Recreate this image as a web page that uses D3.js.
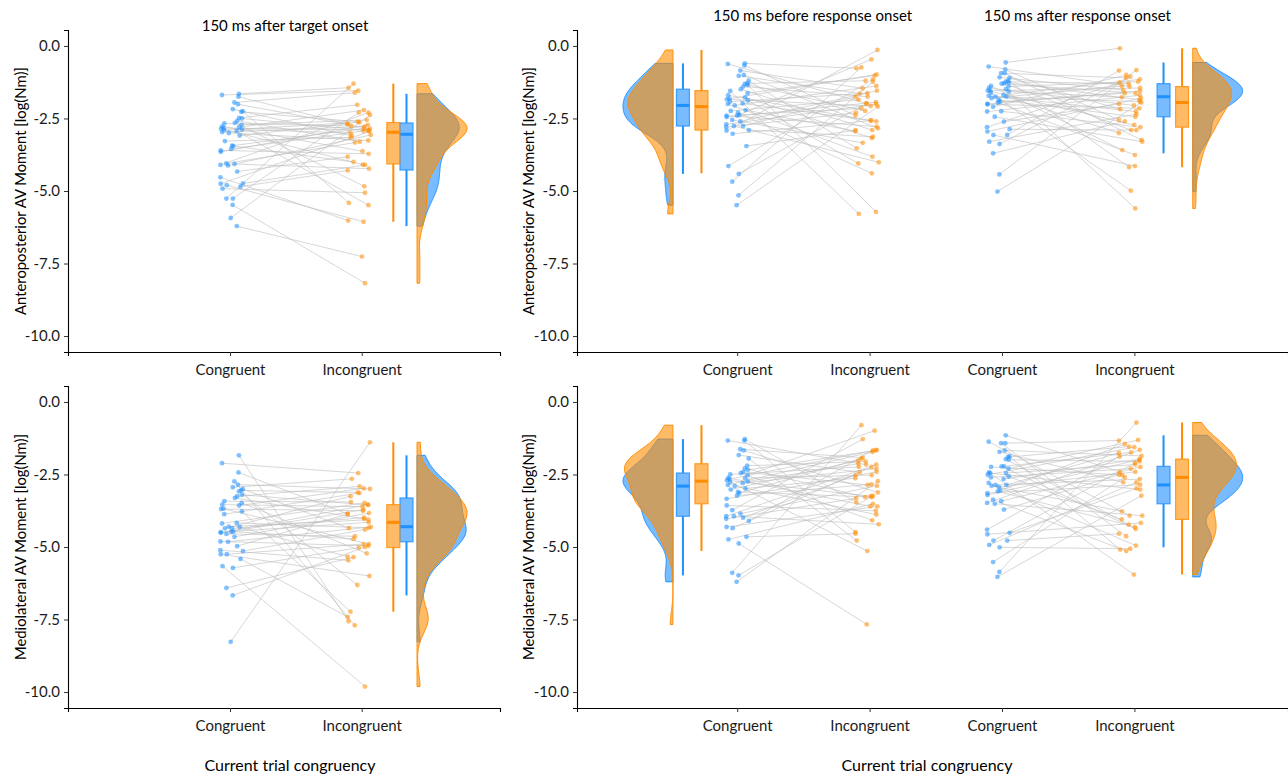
<!DOCTYPE html>
<html>
<head>
<meta charset="utf-8">
<script src="https://cdn.jsdelivr.net/npm/d3@7"></script>
<style>
  body { margin: 0; background: #fff; }
  text { font-family: Lato, "Open Sans", sans-serif; }
</style>
</head>
<body>
<svg id="chart" width="1288" height="774"></svg>
<script>
// ---- data (log(Nm)), paired by index: congruent[i] <-> incongruent[i] ----
const conditions = ['150 ms after target onset', '150 ms before response onset', '150 ms after response onset'];
const categories = ['Congruent', 'Incongruent'];
const yTicks = [0, -2.5, -5, -7.5, -10];
const yTitles = ['Anteroposterior AV Moment [log(Nm)]', 'Mediolateral AV Moment [log(Nm)]'];
const xTitle = 'Current trial congruency';

// anteroposterior, after target onset
const apTargetCong = [-1.65,-1.69,-1.75,-1.95,-2.01,-2.18,-2.25,-2.27,-2.48,-2.50,-2.58,-2.65,-2.67,-2.72,-2.77,-2.80,-2.83,-2.85,-2.88,-2.90,-2.93,-2.97,-3.00,-3.09,-3.28,-3.44,-3.45,-3.55,-3.60,-3.65,-4.05,-4.07,-4.10,-4.12,-4.33,-4.53,-4.74,-4.75,-4.80,-4.85,-4.92,-5.26,-5.26,-5.48,-5.93,-6.21];
const apTargetIncong = [-1.44,-1.54,-2.70,-1.61,-2.85,-3.10,-5.41,-2.61,-2.03,-2.92,-3.30,-4.84,-2.76,-2.55,-3.63,-2.21,-2.90,-4.09,-3.00,-2.63,-5.49,-2.78,-3.26,-2.67,-3.15,-2.84,-4.00,-2.93,-3.72,-2.72,-3.33,-4.23,-2.30,-3.07,-3.82,-6.02,-4.10,-2.95,-6.06,-4.29,-5.06,-2.29,-1.30,-8.18,-2.38,-7.26];

// anteroposterior, before response onset
const apBeforeCong = [-0.60,-0.62,-0.67,-0.85,-1.00,-1.03,-1.20,-1.29,-1.31,-1.35,-1.40,-1.49,-1.55,-1.63,-1.70,-1.77,-1.82,-1.84,-1.88,-1.92,-1.98,-2.00,-2.05,-2.21,-2.24,-2.30,-2.38,-2.40,-2.40,-2.45,-2.55,-2.60,-2.70,-2.76,-2.76,-2.80,-2.90,-2.92,-3.03,-3.45,-4.14,-4.41,-4.68,-5.15,-5.49];
const apBeforeIncong = [-0.77,-1.98,-2.40,-1.46,-2.84,-1.64,-3.53,-1.20,-2.24,-5.72,-1.75,-2.90,-5.79,-1.02,-2.57,-3.17,-0.98,-2.07,-4.05,-1.63,-2.60,-3.82,-1.38,-2.94,-1.85,-4.39,-2.15,-0.46,-2.78,-1.94,-3.34,-1.54,-2.01,-4.01,-1.75,-2.30,-3.13,-0.14,-2.57,-2.90,-1.15,-1.98,-0.74,-1.23,-2.09];

// anteroposterior, after response onset
const apAfterCong = [-0.57,-0.71,-0.81,-0.94,-0.94,-1.08,-1.10,-1.20,-1.23,-1.26,-1.29,-1.30,-1.38,-1.40,-1.45,-1.49,-1.54,-1.54,-1.57,-1.62,-1.69,-1.72,-1.75,-1.75,-1.80,-1.86,-1.92,-1.95,-2.00,-2.01,-2.10,-2.25,-2.26,-2.44,-2.61,-2.80,-2.87,-2.95,-3.07,-3.07,-3.30,-3.38,-3.70,-4.43,-5.02];
const apAfterIncong = [-0.08,-1.40,-2.55,-1.10,-3.24,-1.52,-2.18,-4.18,-1.30,-1.86,-2.90,-1.63,-3.59,-1.23,-2.05,-5.60,-1.45,-2.72,-1.77,-4.99,-1.15,-2.26,-1.92,-3.00,-1.38,-2.44,-1.63,-3.76,-1.55,-2.15,-1.00,-2.80,-1.70,-3.30,-2.00,-1.26,-2.90,-1.80,-4.14,-0.85,-2.35,-1.06,-2.60,-0.83,-1.95];

// mediolateral, after target onset
const mlTargetCong = [-1.84,-2.11,-2.43,-2.74,-2.85,-2.94,-3.00,-3.05,-3.08,-3.20,-3.25,-3.31,-3.42,-3.48,-3.54,-3.57,-3.68,-3.69,-3.77,-3.87,-4.17,-4.19,-4.30,-4.31,-4.36,-4.36,-4.47,-4.47,-4.49,-4.51,-4.55,-4.65,-4.81,-4.82,-4.97,-5.11,-5.14,-5.25,-5.25,-5.41,-5.66,-5.72,-6.41,-6.67,-8.27];
const mlTargetIncong = [-7.56,-2.45,-3.86,-7.70,-3.00,-2.65,-4.35,-3.12,-6.31,-3.55,-2.91,-4.03,-3.45,-5.22,-3.61,-2.98,-4.90,-3.75,-7.23,-3.14,-4.34,-3.48,-4.06,-5.33,-3.25,-3.99,-4.72,-3.71,-4.15,-3.54,-4.63,-3.83,-4.96,-4.31,-3.86,-5.46,-4.40,-6.00,-4.90,-7.41,-9.81,-5.02,-5.35,-5.00,-1.39];

// mediolateral, before response onset
const mlBeforeCong = [-1.28,-1.33,-1.33,-1.63,-1.67,-1.83,-1.95,-2.20,-2.29,-2.34,-2.41,-2.45,-2.50,-2.52,-2.62,-2.63,-2.66,-2.70,-2.74,-2.75,-2.80,-2.86,-2.90,-2.98,-3.02,-3.10,-3.14,-3.23,-3.34,-3.57,-3.73,-3.85,-3.94,-3.94,-3.99,-4.03,-4.10,-4.31,-4.35,-4.65,-4.74,-4.88,-5.89,-5.98,-6.20];
const mlBeforeIncong = [-3.46,-2.16,-4.49,-1.92,-3.12,-2.43,-4.78,-2.05,-3.28,-1.67,-2.86,-4.08,-2.24,-0.99,-3.60,-2.52,-1.65,-3.25,-2.13,-5.14,-2.30,-1.72,-3.88,-2.63,-2.02,-3.28,-1.95,-2.84,-2.41,-3.75,-1.28,-2.89,-2.16,-4.22,-2.52,-3.32,-1.67,-3.60,-2.24,-4.54,-3.51,-7.67,-0.80,-3.23,-2.73];

// mediolateral, after response onset
const mlAfterCong = [-1.15,-1.37,-1.42,-1.42,-1.67,-1.72,-1.88,-1.90,-1.97,-1.99,-2.22,-2.22,-2.24,-2.30,-2.43,-2.45,-2.45,-2.51,-2.57,-2.60,-2.66,-2.79,-2.86,-2.86,-2.89,-2.93,-3.05,-3.08,-3.14,-3.21,-3.37,-3.42,-3.48,-3.51,-3.71,-4.40,-4.51,-4.56,-4.78,-4.78,-4.93,-5.01,-5.52,-5.86,-6.03];
const mlAfterIncong = [-2.41,-3.92,-1.33,-4.63,-1.86,-2.77,-5.09,-1.54,-4.23,-2.05,-1.74,-4.38,-2.52,-1.31,-5.95,-2.16,-3.02,-1.56,-4.05,-2.30,-1.97,-4.95,-2.66,-1.76,-3.77,-2.41,-1.45,-4.31,-2.85,-1.99,-5.14,-2.24,-1.65,-3.92,-2.51,-1.88,-2.98,-4.17,-2.10,-4.54,-2.77,-5.06,-2.60,-0.71,-3.23];

// ---- layout ----
const BLUE = '#1e90ff', ORANGE = '#ff8c00';
const svg = d3.select('#chart');

const rows = [
  { yRange: [30, 352] },
  { yRange: [386, 708] }
];
const panelsX = [
  { range: [68, 500], domain: [-0.23, 3.05], ticks: [1, 2], center: 290, yTitleX: 20 },
  { range: [577, 1288], domain: [-0.21, 5.16], ticks: [1, 2, 3, 4], center: 927, yTitleX: 528 }
];

// group layout in x-units: point centres, box centres, violin base, violin direction
const layouts = {
  target: { c: 1.01, i: 1.98, boxC: 2.34, boxI: 2.24, vio: 2.42, dir: 1, titleX: null },
  before: { c: 1.0, i: 1.98, boxC: 0.59, boxI: 0.73, vio: 0.515, dir: -1, titleX: 1.57 },
  after: { c: 2.97, i: 3.97, boxC: 4.22, boxI: 4.36, vio: 4.44, dir: 1, titleX: 3.57 }
};

const plots = [
  { row: 0, px: 0, groups: [{ lay: 'target', cond: 0, cong: apTargetCong, inc: apTargetIncong }] },
  { row: 0, px: 1, groups: [{ lay: 'before', cond: 1, cong: apBeforeCong, inc: apBeforeIncong },
                            { lay: 'after', cond: 2, cong: apAfterCong, inc: apAfterIncong }] },
  { row: 1, px: 0, groups: [{ lay: 'target', cond: 0, cong: mlTargetCong, inc: mlTargetIncong }] },
  { row: 1, px: 1, groups: [{ lay: 'before', cond: 1, cong: mlBeforeCong, inc: mlBeforeIncong },
                            { lay: 'after', cond: 2, cong: mlAfterCong, inc: mlAfterIncong }] }
];

// deterministic horizontal jitter (position only, hash of the index)
const jit = i => {
  const h = Math.sin(i * 127.1 + 311.7) * 43758.5453;
  return (h - Math.floor(h) - 0.5) * 0.18;
};

function bwNrd0(x) {
  const s = d3.deviation(x);
  const srt = x.slice().sort(d3.ascending);
  const iqr = d3.quantile(srt, 0.75) - d3.quantile(srt, 0.25);
  return 0.9 * Math.min(s, iqr / 1.34) * Math.pow(x.length, -0.2);
}
function kde(x) {
  const bw = bwNrd0(x);
  const [mn, mx] = d3.extent(x);
  return d3.range(200).map(k => {
    const t = mn + (mx - mn) * k / 199;
    const d = d3.mean(x, v => Math.exp(-0.5 * ((t - v) / bw) ** 2)) / (bw * Math.sqrt(2 * Math.PI));
    return [t, d];
  });
}
function boxStats(x) {
  const s = x.slice().sort(d3.ascending);
  const q1 = d3.quantile(s, 0.25), med = d3.quantile(s, 0.5), q3 = d3.quantile(s, 0.75);
  const iqr = q3 - q1;
  const lo = d3.min(s.filter(v => v >= q1 - 1.5 * iqr));
  const hi = d3.max(s.filter(v => v <= q3 + 1.5 * iqr));
  return { q1, med, q3, lo, hi };
}

plots.forEach(p => {
  const row = rows[p.row], pxl = panelsX[p.px];
  const x = d3.scaleLinear().domain(pxl.domain).range(pxl.range);
  const y = d3.scaleLinear().domain([0.55, -10.55]).range(row.yRange);
  const g = svg.append('g');

  // axes
  const yAx = g.append('g').attr('transform', `translate(${pxl.range[0]},0)`)
    .call(d3.axisLeft(y).tickValues(yTicks).tickFormat(d => d.toFixed(1)).tickSizeOuter(0).tickSize(4).tickPadding(4));
  const xAx = g.append('g').attr('transform', `translate(0,${row.yRange[1]})`)
    .call(d3.axisBottom(x).tickValues(pxl.ticks).tickFormat(d => categories[(d - 1) % 2]).tickSizeOuter(0).tickSize(4).tickPadding(8));
  [yAx, xAx].forEach(a => {
    a.select('.domain').attr('stroke', '#000').attr('stroke-width', 1.1);
    a.selectAll('.tick line').attr('stroke', '#333');
    a.selectAll('.tick text').attr('fill', '#1a1a1a').style('font-size', '15px').style('font-family', 'Lato, sans-serif');
  });

  // y title
  const yMid = (row.yRange[0] + row.yRange[1]) / 2;
  g.append('text').attr('transform', `translate(${pxl.yTitleX},${yMid}) rotate(-90)`)
    .attr('text-anchor', 'middle').attr('dominant-baseline', 'central')
    .style('font-size', '14.8px').attr('fill', '#000').text(yTitles[p.row]);
  if (p.row === 1) {
    g.append('text').attr('x', pxl.center).attr('y', 764).attr('text-anchor', 'middle')
      .attr('dominant-baseline', 'central').style('font-size', '16px').text(xTitle);
  }

  p.groups.forEach(gr => {
    const L = layouts[gr.lay];
    if (p.row === 0) {
      const tx = L.titleX === null ? 285 : x(L.titleX);
      g.append('text').attr('x', tx).attr('y', L.titleX === null ? 25 : 15).attr('text-anchor', 'middle')
        .attr('dominant-baseline', 'central').style('font-size', '15px').text(conditions[gr.cond]);
    }
    const pts = gr.cong.map((v, i) => ({
      xc: x(L.c + jit(i)), yc: y(v), xi: x(L.i + jit(i + 50)), yi: y(gr.inc[i])
    }));

    // pairing lines
    g.append('g').selectAll('line').data(pts).join('line')
      .attr('x1', d => d.xc).attr('y1', d => d.yc).attr('x2', d => d.xi).attr('y2', d => d.yi)
      .attr('stroke', '#bdbdbd').attr('stroke-opacity', 0.6).attr('stroke-width', 1);

    // points
    g.append('g').selectAll('circle').data(pts).join('circle')
      .attr('cx', d => d.xc).attr('cy', d => d.yc).attr('r', 2.4)
      .attr('fill', BLUE).attr('fill-opacity', 0.55);
    g.append('g').selectAll('circle').data(pts).join('circle')
      .attr('cx', d => d.xi).attr('cy', d => d.yi).attr('r', 2.4)
      .attr('fill', ORANGE).attr('fill-opacity', 0.55);

    // boxplots
    [[gr.cong, L.boxC, BLUE], [gr.inc, L.boxI, ORANGE]].forEach(([vals, pos, col]) => {
      const s = boxStats(vals);
      const cx = x(pos), hw = 6.5;
      const bg = g.append('g');
      bg.append('line').attr('x1', cx).attr('x2', cx).attr('y1', y(s.hi)).attr('y2', y(s.q3))
        .attr('stroke', col).attr('stroke-width', 2);
      bg.append('line').attr('x1', cx).attr('x2', cx).attr('y1', y(s.q1)).attr('y2', y(s.lo))
        .attr('stroke', col).attr('stroke-width', 2);
      bg.append('rect').attr('x', cx - hw).attr('width', 2 * hw)
        .attr('y', y(s.q3)).attr('height', y(s.q1) - y(s.q3))
        .attr('fill', col).attr('fill-opacity', 0.6).attr('stroke', col).attr('stroke-opacity', 0.8).attr('stroke-width', 1.2);
      bg.append('line').attr('x1', cx - hw).attr('x2', cx + hw).attr('y1', y(s.med)).attr('y2', y(s.med))
        .attr('stroke', col).attr('stroke-width', 3);
    });

    // half violins
    const dC = kde(gr.cong), dI = kde(gr.inc);
    const maxD = Math.max(d3.max(dC, d => d[1]), d3.max(dI, d => d[1]));
    const base = x(L.vio);
    const k = 50 / maxD;
    const area = d3.area().curve(d3.curveLinear)
      .y(d => y(d[0])).x0(base).x1(d => base + L.dir * d[1] * k);
    [[dC, BLUE], [dI, ORANGE]].forEach(([dd, col]) => {
      g.append('path').datum(dd).attr('d', area)
        .attr('fill', col).attr('fill-opacity', 0.6)
        .attr('stroke', col).attr('stroke-width', 1);
    });
  });
});
</script>
</body>
</html>
